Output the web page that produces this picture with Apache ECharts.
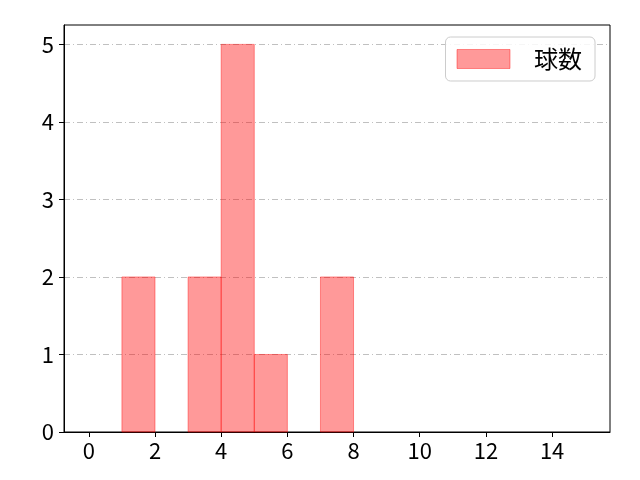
<!DOCTYPE html>
<html><head><meta charset="utf-8">
<script src="https://cdn.jsdelivr.net/npm/echarts@6/dist/echarts.min.js"></script>
<style>html,body{margin:0;padding:0;background:#fff}#c{width:640px;height:480px}</style>
</head><body><div id="c"></div>
<script>
const binStarts = [1, 3, 4, 5, 7];
const binEnds = [2, 4, 5, 6, 8];
const counts = [2, 2, 5, 1, 2];
const xTicks = [0, 2, 4, 6, 8, 10, 12, 14];
const yTicks = [0, 1, 2, 3, 4, 5];
const seriesName = '球数';

const data = binStarts.map((s, i) => [s, binEnds[i], counts[i]]);
const font = '"Noto Sans CJK JP", "Noto Sans", sans-serif';
const chart = echarts.init(document.getElementById('c'), null, {renderer: 'canvas'});
chart.setOption({
  animation: false,
  backgroundColor: '#fff',
  grid: {left: 64, right: 30, top: 25, bottom: 48, show: true, borderColor: '#000', borderWidth: 1, backgroundColor: 'transparent'},
  legend: {
    right: 45, top: 37, orient: 'vertical',
    padding: [10, 13, 10, 11],
    itemWidth: 53, itemHeight: 19, itemGap: 10,
    borderColor: '#cccccc', borderWidth: 1, borderRadius: 5,
    backgroundColor: 'rgba(255,255,255,0.85)',
    textStyle: {fontFamily: font, fontSize: 24, color: '#000', padding: [0, 0, 0, 19]},
    data: [{name: seriesName, icon: 'rect', itemStyle: {color: 'rgba(255,0,0,0.4)', borderColor: 'rgba(255,0,0,0.4)', borderWidth: 1}}]
  },
  xAxis: {
    type: 'value', min: -0.75, max: 15.75,
    axisLine: {onZero: false, lineStyle: {color: '#000', width: 1}},
    axisTick: {show: true, length: 5, inside: false, lineStyle: {color: '#000'}, customValues: xTicks},
    axisLabel: {fontFamily: font, fontSize: 22, color: '#000', margin: 8, customValues: xTicks},
    splitLine: {show: false}
  },
  yAxis: {
    type: 'value', min: 0, max: 5.25, interval: 1,
    axisLine: {show: true, onZero: false, lineStyle: {color: '#000', width: 1}},
    axisTick: {show: true, length: 5, lineStyle: {color: '#000'}, customValues: yTicks},
    axisLabel: {fontFamily: font, fontSize: 22, color: '#000', margin: 10, customValues: yTicks},
    splitLine: {show: true, lineStyle: {color: '#b0b0b0', width: 0.8, type: [6, 3, 1, 3]}}
  },
  series: [{
    name: seriesName, type: 'custom', z: 3,
    itemStyle: {color: 'rgba(255,0,0,0.4)'},
    renderItem: function (params, api) {
      const p0 = api.coord([api.value(0), 0]);
      const p1 = api.coord([api.value(1), api.value(2)]);
      return {
        type: 'rect',
        shape: {x: p0[0], y: p1[1], width: p1[0] - p0[0], height: p0[1] - p1[1]},
        style: {fill: 'rgba(255,0,0,0.4)', stroke: 'rgba(255,0,0,0.4)', lineWidth: 1}
      };
    },
    encode: {x: [0, 1], y: 2},
    data: data
  }]
});
</script></body></html>
